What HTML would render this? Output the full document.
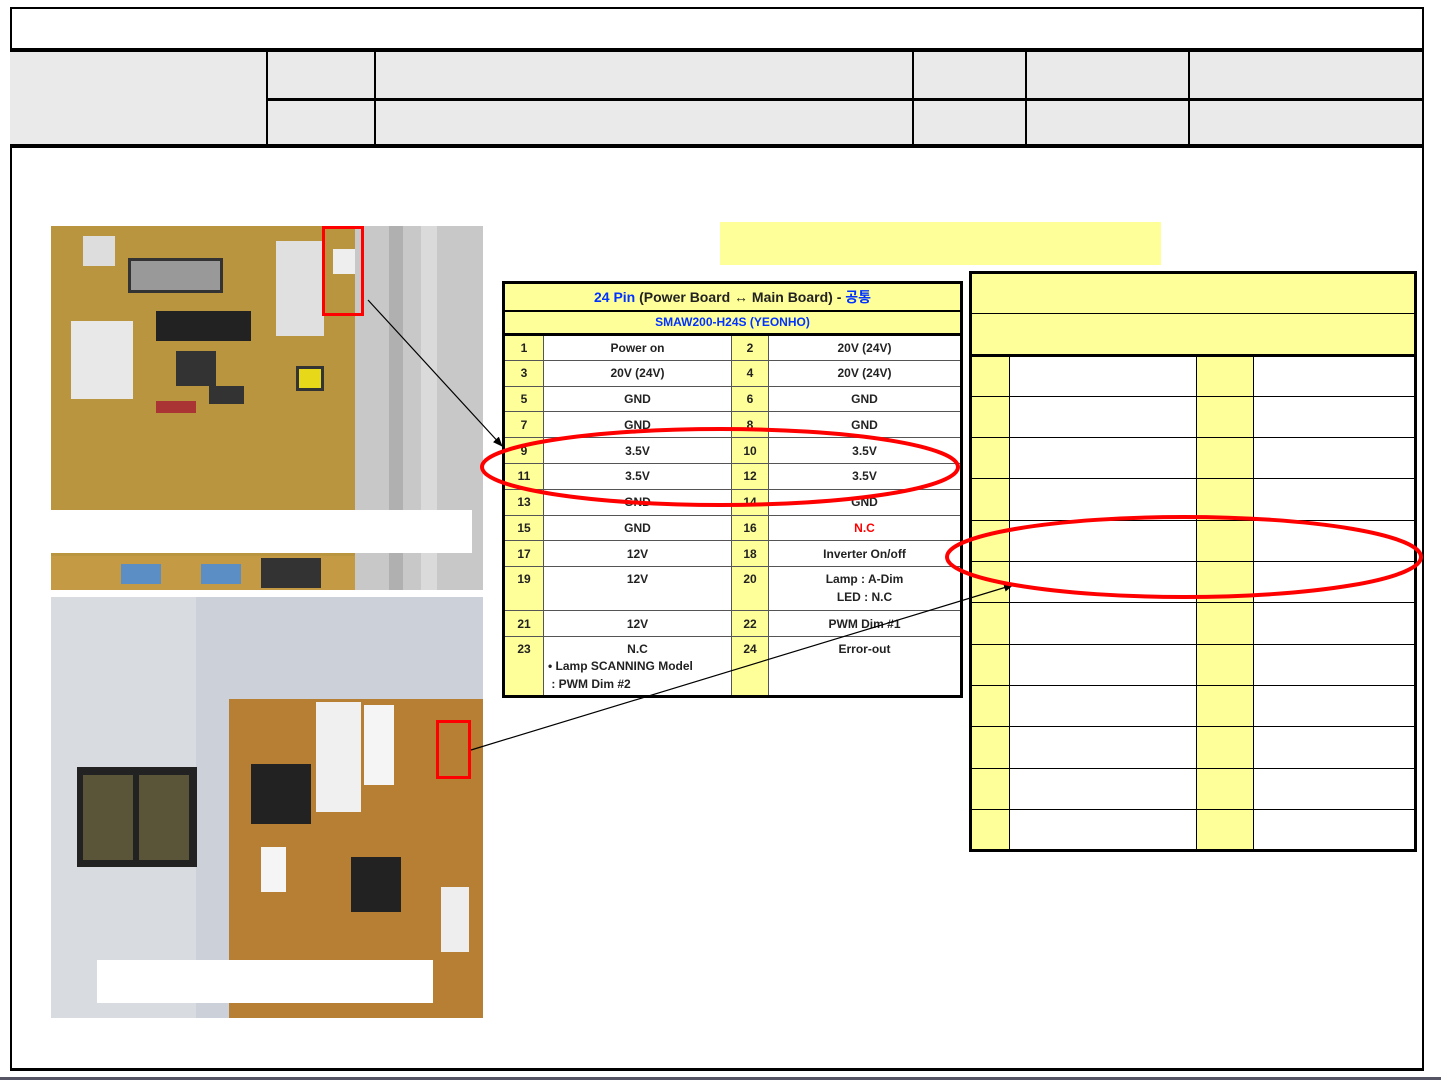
<!DOCTYPE html>
<html><head><meta charset="utf-8"><style>
*{margin:0;padding:0;box-sizing:border-box}
body{width:1441px;height:1081px;background:#fff;position:relative;overflow:hidden;font-family:"Liberation Sans","Noto Sans CJK KR",sans-serif}
.a{position:absolute}
table{border-collapse:collapse;position:absolute}
#t1{left:502px;top:281px;width:461px;border:3px solid #000;font-size:12px;font-weight:bold;color:#222}
#t1 td{border:1px solid #555;text-align:center;height:25.8px;padding:0}
#t1 .y{background:#ffff99}
#t2{left:969px;top:271px;width:448px;border:3px solid #000}
#t2 td{border:1px solid #000;height:41.3px;padding:0}
#t2 .y{background:#ffff99}
</style></head><body>
<div class="a" style="left:10px;top:7px;width:1414px;height:1064px;border:2px solid #000;border-bottom-width:3px"></div>
<div class="a" style="left:10px;top:48px;width:1412px;height:100px;background:#eaeaea;border-top:4px solid #000;border-bottom:4px solid #000"></div>
<div class="a" style="left:266px;top:98px;width:1156px;height:3px;background:#000"></div>
<div class="a" style="left:266px;top:50px;width:2px;height:96px;background:#000"></div>
<div class="a" style="left:374px;top:50px;width:2px;height:96px;background:#000"></div>
<div class="a" style="left:912px;top:50px;width:2px;height:96px;background:#000"></div>
<div class="a" style="left:1025px;top:50px;width:2px;height:96px;background:#000"></div>
<div class="a" style="left:1188px;top:50px;width:2px;height:96px;background:#000"></div>
<div class="a" style="left:0;top:1077px;width:1441px;height:3px;background:#556"></div>
<div class="a" style="left:720px;top:222px;width:441px;height:43px;background:#ffff99"></div>

<div class="a" style="left:51px;top:226px;width:432px;height:364px;background:#c8c8c8;overflow:hidden">
 <div class="a" style="left:0;top:0;width:304px;height:364px;background:#b8953e"></div>
 <div class="a" style="left:338px;top:0;width:14px;height:364px;background:#b0b0b0"></div>
 <div class="a" style="left:370px;top:0;width:16px;height:364px;background:#dadada"></div>
 <div class="a" style="left:32px;top:10px;width:32px;height:30px;background:#ddd"></div>
 <div class="a" style="left:77px;top:32px;width:95px;height:35px;background:#999;border:3px solid #333"></div>
 <div class="a" style="left:225px;top:15px;width:48px;height:95px;background:#e0e0e0"></div>
 <div class="a" style="left:20px;top:95px;width:62px;height:78px;background:#e8e8e8"></div>
 <div class="a" style="left:105px;top:85px;width:95px;height:30px;background:#222"></div>
 <div class="a" style="left:125px;top:125px;width:40px;height:35px;background:#333"></div>
 <div class="a" style="left:245px;top:140px;width:28px;height:25px;background:#e8d81a;border:3px solid #333"></div>
 <div class="a" style="left:158px;top:160px;width:35px;height:18px;background:#333"></div>
 <div class="a" style="left:105px;top:175px;width:40px;height:12px;background:#a33"></div>
 <div class="a" style="left:282px;top:23px;width:22px;height:25px;background:#eee"></div>
 <div class="a" style="left:0;top:330px;width:304px;height:34px;background:#c49a44"></div>
 <div class="a" style="left:70px;top:338px;width:40px;height:20px;background:#5b8ec4"></div>
 <div class="a" style="left:150px;top:338px;width:40px;height:20px;background:#5b8ec4"></div>
 <div class="a" style="left:210px;top:332px;width:60px;height:30px;background:#333"></div>
</div>
<div class="a" style="left:51px;top:510px;width:421px;height:43px;background:#fff"></div>
<div class="a" style="left:322px;top:226px;width:42px;height:90px;border:3px solid #f00"></div>

<div class="a" style="left:51px;top:597px;width:432px;height:421px;background:#ccd0d8;overflow:hidden">
 <div class="a" style="left:0;top:0;width:145px;height:421px;background:#d8dbe0"></div>
 <div class="a" style="left:26px;top:170px;width:120px;height:100px;background:#222"></div>
 <div class="a" style="left:32px;top:178px;width:50px;height:85px;background:#5a5538"></div>
 <div class="a" style="left:88px;top:178px;width:50px;height:85px;background:#5a5538"></div>
 <div class="a" style="left:178px;top:102px;width:254px;height:319px;background:#b67f33"></div>
 <div class="a" style="left:265px;top:105px;width:45px;height:110px;background:#f0f0f0"></div>
 <div class="a" style="left:313px;top:108px;width:30px;height:80px;background:#f5f5f5"></div>
 <div class="a" style="left:200px;top:167px;width:60px;height:60px;background:#222"></div>
 <div class="a" style="left:300px;top:260px;width:50px;height:55px;background:#222"></div>
 <div class="a" style="left:210px;top:250px;width:25px;height:45px;background:#f5f5f5"></div>
 <div class="a" style="left:390px;top:290px;width:28px;height:65px;background:#eee"></div>
</div>
<div class="a" style="left:97px;top:960px;width:336px;height:43px;background:#fff"></div>
<div class="a" style="left:436px;top:720px;width:35px;height:59px;border:3px solid #f00"></div>

<table id="t1">
<tr><td colspan="4" class="y" style="height:28px;font-weight:bold;font-size:14px;border-bottom:2px solid #000"><span style="color:#0033ff">24 Pin</span> (Power Board ↔ Main Board) - <span style="color:#0033ff">공통</span></td></tr>
<tr><td colspan="4" class="y" style="height:24px;font-weight:bold;font-size:12px;color:#0033ff;border-bottom:3px solid #000">SMAW200-H24S (YEONHO)</td></tr>
<tr><td class="y" style="width:40px">1</td><td style="width:188px">Power on</td><td class="y" style="width:37px">2</td><td>20V (24V)</td></tr>
<tr><td class="y">3</td><td>20V (24V)</td><td class="y">4</td><td>20V (24V)</td></tr>
<tr><td class="y">5</td><td>GND</td><td class="y">6</td><td>GND</td></tr>
<tr><td class="y">7</td><td>GND</td><td class="y">8</td><td>GND</td></tr>
<tr><td class="y">9</td><td>3.5V</td><td class="y">10</td><td>3.5V</td></tr>
<tr><td class="y">11</td><td>3.5V</td><td class="y">12</td><td>3.5V</td></tr>
<tr><td class="y">13</td><td>GND</td><td class="y">14</td><td>GND</td></tr>
<tr><td class="y">15</td><td>GND</td><td class="y">16</td><td style="color:#f00">N.C</td></tr>
<tr><td class="y">17</td><td>12V</td><td class="y">18</td><td>Inverter On/off</td></tr>
<tr><td class="y" style="height:44px;vertical-align:top;padding-top:5px">19</td><td style="vertical-align:top;padding-top:5px">12V</td><td class="y" style="vertical-align:top;padding-top:5px">20</td><td style="line-height:18px;padding-top:3px;vertical-align:top">Lamp : A-Dim<br>LED : N.C</td></tr>
<tr><td class="y">21</td><td>12V</td><td class="y">22</td><td>PWM Dim #1</td></tr>
<tr><td class="y" style="height:60px;vertical-align:top;padding-top:5px">23</td><td style="vertical-align:top;padding-top:4px;line-height:17.5px">N.C<div style="text-align:left;padding-left:4px">• Lamp SCANNING Model<br>&nbsp;: PWM Dim #2</div></td><td class="y" style="vertical-align:top;padding-top:5px">24</td><td style="vertical-align:top;padding-top:5px">Error-out</td></tr>
</table>

<table id="t2">
<tr><td colspan="4" class="y"></td></tr>
<tr><td colspan="4" class="y" style="border-bottom:3px solid #000"></td></tr>
<tr><td class="y" style="width:39px"></td><td style="width:187px"></td><td class="y" style="width:57px"></td><td></td></tr>
<tr><td class="y"></td><td></td><td class="y"></td><td></td></tr>
<tr><td class="y"></td><td></td><td class="y"></td><td></td></tr>
<tr><td class="y"></td><td></td><td class="y"></td><td></td></tr>
<tr><td class="y"></td><td></td><td class="y"></td><td></td></tr>
<tr><td class="y"></td><td></td><td class="y"></td><td></td></tr>
<tr><td class="y"></td><td></td><td class="y"></td><td></td></tr>
<tr><td class="y"></td><td></td><td class="y"></td><td></td></tr>
<tr><td class="y"></td><td></td><td class="y"></td><td></td></tr>
<tr><td class="y"></td><td></td><td class="y"></td><td></td></tr>
<tr><td class="y"></td><td></td><td class="y"></td><td></td></tr>
<tr><td class="y"></td><td></td><td class="y"></td><td></td></tr>
</table>

<svg class="a" style="left:0;top:0" width="1441" height="1081">
<defs><marker id="ar" markerWidth="10" markerHeight="8" refX="9" refY="4" orient="auto" markerUnits="userSpaceOnUse"><path d="M0,0L10,4L0,8z" fill="#000"/></marker></defs>
<line x1="368" y1="300" x2="502" y2="446" stroke="#000" stroke-width="1.2" marker-end="url(#ar)"/>
<line x1="471" y1="750" x2="1013" y2="585" stroke="#000" stroke-width="1.2" marker-end="url(#ar)"/>
<ellipse cx="720" cy="467" rx="238" ry="38" fill="none" stroke="#f00" stroke-width="4"/>
<ellipse cx="1184" cy="557" rx="237" ry="40" fill="none" stroke="#f00" stroke-width="4"/>
</svg>
</body></html>
